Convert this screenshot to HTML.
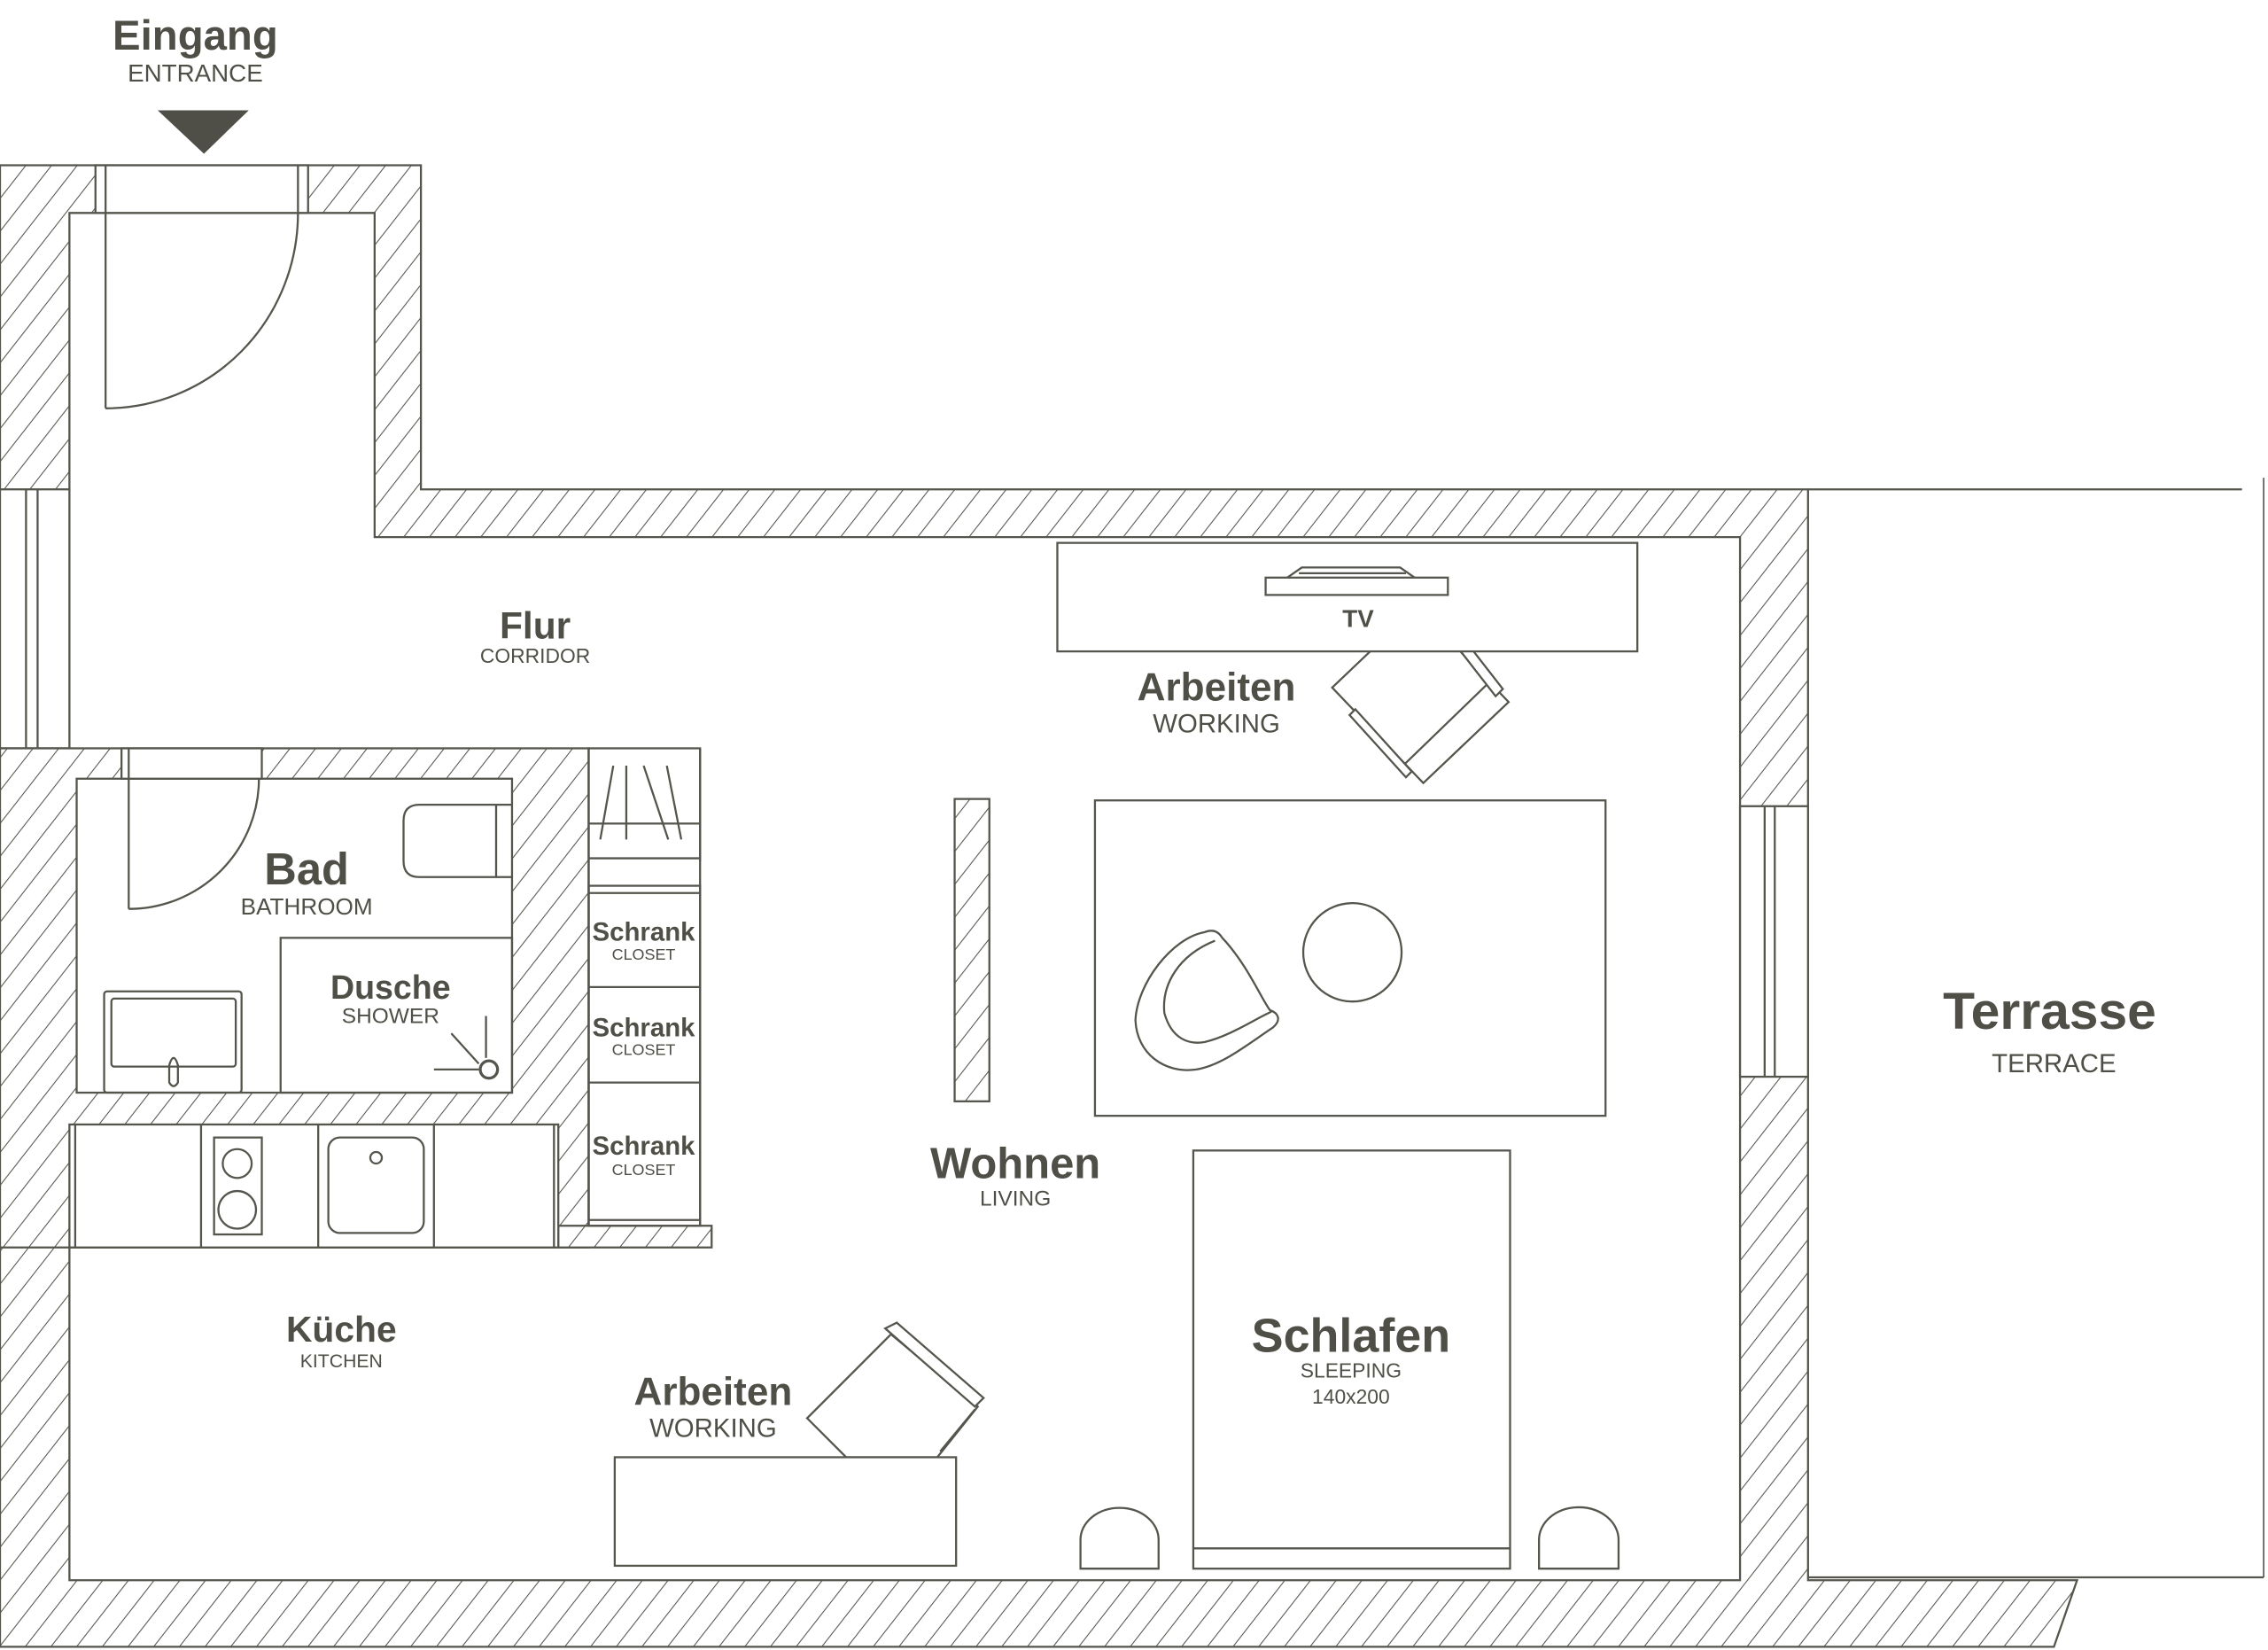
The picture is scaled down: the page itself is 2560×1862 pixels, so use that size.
<!DOCTYPE html>
<html><head><meta charset="utf-8"><style>html,body{margin:0;padding:0;background:#fff}svg{display:block}</style></head>
<body>
<svg width="2560" height="1862" viewBox="0 0 1568 1140" xmlns="http://www.w3.org/2000/svg">
<defs>
<pattern id="h" width="14" height="14" patternUnits="userSpaceOnUse" patternTransform="rotate(38)">
<rect width="14" height="14" fill="#fff"/><line x1="0" y1="0" x2="0" y2="14" stroke="#55554d" stroke-width="1.3"/>
</pattern>
</defs>
<g stroke="#55554d" stroke-width="1.4" fill="none" font-family="Liberation Sans, sans-serif">
<path d="M0,114 H291 V338 H1250 V1092 H1436 L1420,1138 H0 Z" fill="url(#h)"/>
<path d="M48,147 H259 V371 H1203 V1092 H48 Z" fill="#fff"/>
<rect x="0" y="338" width="48" height="179" fill="#fff"/>
<line x1="18" y1="338" x2="18" y2="517"/><line x1="26" y1="338" x2="26" y2="517"/>
<rect x="66" y="114" width="147" height="33" fill="#fff"/>
<line x1="73" y1="114" x2="73" y2="147"/><line x1="206" y1="114" x2="206" y2="147"/>
<line x1="48" y1="147" x2="259" y2="147"/>
<line x1="73" y1="147" x2="73" y2="282"/>
<path d="M73,282 A133,135 0 0 0 206,147"/>
<rect x="1203" y="557" width="47" height="187" fill="#fff"/>
<line x1="1220" y1="557" x2="1220" y2="744"/><line x1="1227" y1="557" x2="1227" y2="744"/>
<line x1="1250" y1="338" x2="1550" y2="338"/>
<line x1="1250" y1="1090" x2="1565" y2="1090"/>
<line x1="1565" y1="330" x2="1565" y2="1090" stroke-width="1"/>
<rect x="0" y="517" width="407" height="345" fill="url(#h)"/>
<rect x="386" y="847" width="106" height="15" fill="url(#h)"/>
<rect x="53" y="538" width="301" height="217" fill="#fff"/>
<rect x="84" y="517" width="97" height="21" fill="#fff"/>
<line x1="89" y1="517" x2="89" y2="628"/>
<path d="M89,628 A90,90 0 0 0 179,538"/>
<path d="M343,556 H290 Q279,556 279,567 V595 Q279,606 290,606 H343 Z" fill="#fff"/>
<line x1="343" y1="556" x2="354" y2="556"/><line x1="343" y1="606" x2="354" y2="606"/>
<rect x="194" y="648" width="160" height="107"/>
<rect x="72" y="685" width="95" height="70" rx="2"/>
<rect x="77" y="690" width="86" height="47" rx="2"/>
<path d="M117,748 V736 Q120,726 123,736 V748 Q120,753 117,748 Z"/>
<circle cx="338" cy="739" r="6" stroke-width="2"/>
<line x1="336" y1="702" x2="336" y2="731"/><line x1="312" y1="714" x2="331" y2="735"/><line x1="300" y1="739" x2="331" y2="739"/>
<rect x="48" y="777" width="338" height="85" fill="#fff"/>
<line x1="52" y1="777" x2="52" y2="862"/>
<line x1="139" y1="777" x2="139" y2="862"/><line x1="220" y1="777" x2="220" y2="862"/><line x1="300" y1="777" x2="300" y2="862"/><line x1="383" y1="777" x2="383" y2="862"/>
<rect x="148" y="786" width="33" height="67"/>
<circle cx="164" cy="804" r="10"/><circle cx="164" cy="836" r="13"/>
<rect x="227" y="786" width="66" height="66" rx="8"/>
<circle cx="260" cy="800" r="4"/>
<rect x="407" y="517" width="77" height="330" fill="#fff"/>
<line x1="407" y1="517" x2="407" y2="847"/><line x1="484" y1="517" x2="484" y2="595"/>
<line x1="407" y1="593" x2="484" y2="593"/><line x1="407" y1="569" x2="484" y2="569"/>
<line x1="424" y1="529" x2="415" y2="580"/><line x1="433" y1="529" x2="433" y2="580"/><line x1="445" y1="529" x2="462" y2="580"/><line x1="461" y1="529" x2="471" y2="580"/>
<rect x="407" y="612" width="77" height="235"/>
<line x1="407" y1="617" x2="484" y2="617"/><line x1="407" y1="682" x2="484" y2="682"/><line x1="407" y1="748" x2="484" y2="748"/><line x1="407" y1="843" x2="484" y2="843"/>
<rect x="660" y="552" width="24" height="209" fill="url(#h)"/>
<!-- top chair -->
<polygon points="921,475 980,419 1043,485 984,541" fill="#fff"/>
<polygon points="933,494 937,490 976,533 972,537" fill="#fff"/>
<line x1="971" y1="528" x2="1031" y2="470"/>
<polygon points="1011,440 1039,476 1034,481 1006,445" fill="#fff"/>
<rect x="731" y="375" width="401" height="75" fill="#fff"/>
<rect x="875" y="399" width="126" height="12"/>
<path d="M890,399 L900,392 H968 L978,399"/><line x1="898" y1="396" x2="972" y2="396"/>
<rect x="757" y="553" width="353" height="218"/>
<circle cx="935" cy="658" r="34"/>
<path d="M833,644 C810,648 786,680 785,705 C786,728 805,742 827,739 C845,736 862,722 880,710 C886,705 884,700 878,698 C872,690 862,666 845,648 C842,643 838,642 833,644 Z"/>
<path d="M840,650 C815,660 803,680 805,700 C810,718 822,722 833,720 C850,716 866,705 879,699"/>
<rect x="825" y="795" width="219" height="289"/>
<line x1="825" y1="1070" x2="1044" y2="1070"/>
<path d="M747,1084 V1064 A27,22 0 0 1 801,1064 V1084 Z"/>
<path d="M1064,1084 V1064 A27,22 0 0 1 1119,1064 V1084 Z"/>
<!-- bottom chair -->
<polygon points="558,980 616,922 676,972 648,1007 585,1007" fill="#fff"/>
<polygon points="612,918 620,914 680,966 674,972" fill="#fff"/>
<line x1="650" y1="1003" x2="674" y2="974"/>
<rect x="425" y="1007" width="236" height="75" fill="#fff"/>
</g>
<g fill="#4f4f47" font-family="Liberation Sans, sans-serif" text-anchor="middle">
<polygon points="109,76 172,76 141,106"/>
<text x="135" y="34" font-size="29" font-weight="bold">Eingang</text>
<text x="135" y="56" font-size="17">ENTRANCE</text>
<text x="370" y="441" font-size="26" font-weight="bold">Flur</text>
<text x="370" y="458" font-size="14">CORRIDOR</text>
<text x="212" y="611" font-size="31" font-weight="bold">Bad</text>
<text x="212" y="632" font-size="16">BATHROOM</text>
<text x="270" y="690" font-size="23" font-weight="bold">Dusche</text>
<text x="270" y="707" font-size="15">SHOWER</text>
<text x="445" y="650" font-size="18" font-weight="bold">Schrank</text>
<text x="445" y="663" font-size="11">CLOSET</text>
<text x="445" y="716" font-size="18" font-weight="bold">Schrank</text>
<text x="445" y="729" font-size="11">CLOSET</text>
<text x="445" y="798" font-size="18" font-weight="bold">Schrank</text>
<text x="445" y="812" font-size="11">CLOSET</text>
<text x="939" y="433" font-size="17" font-weight="bold">TV</text>
<text x="841" y="484" font-size="27" font-weight="bold">Arbeiten</text>
<text x="841" y="506" font-size="18">WORKING</text>
<text x="702" y="814" font-size="30" font-weight="bold">Wohnen</text>
<text x="702" y="833" font-size="15">LIVING</text>
<text x="934" y="934" font-size="33" font-weight="bold">Schlafen</text>
<text x="934" y="952" font-size="14">SLEEPING</text>
<text x="934" y="970" font-size="14">140x200</text>
<text x="1417" y="711" font-size="36" font-weight="bold">Terrasse</text>
<text x="1420" y="741" font-size="18">TERRACE</text>
<text x="236" y="927" font-size="25" font-weight="bold">Küche</text>
<text x="236" y="945" font-size="13">KITCHEN</text>
<text x="493" y="971" font-size="27" font-weight="bold">Arbeiten</text>
<text x="493" y="993" font-size="18">WORKING</text>
</g>
</svg>
</body></html>
